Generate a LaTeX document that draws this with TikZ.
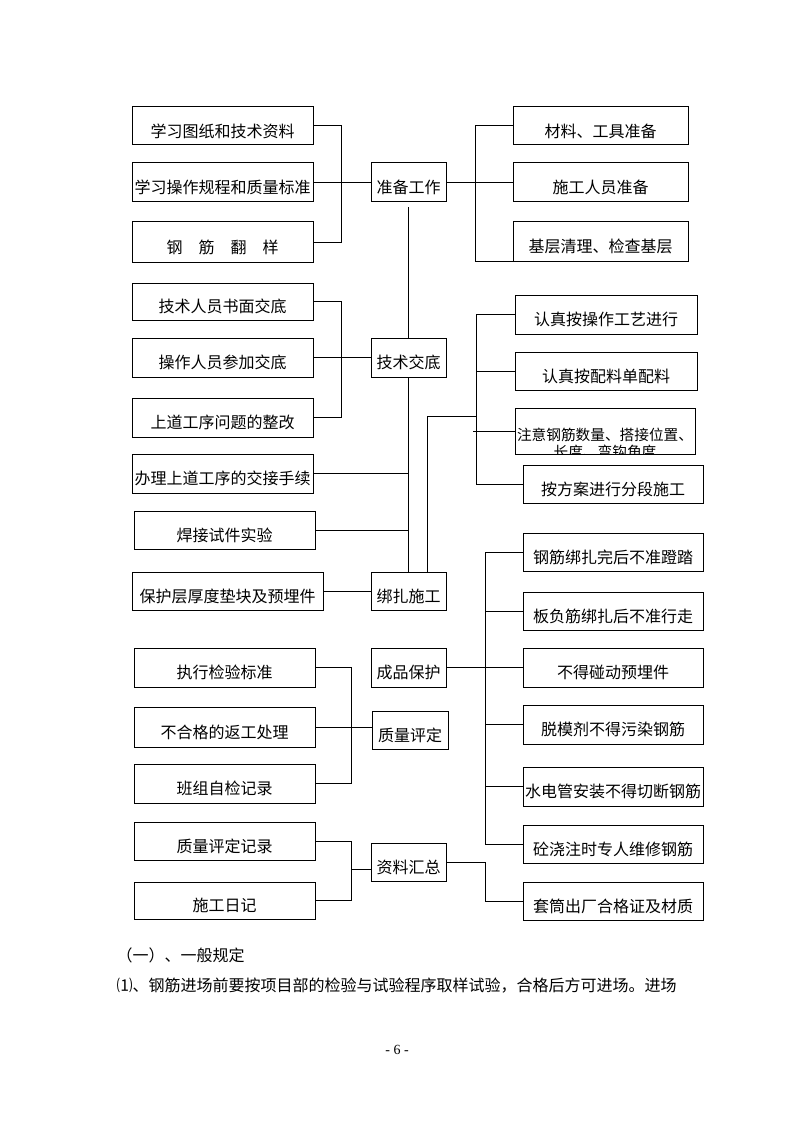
\documentclass[tikz,border=0pt]{standalone}
\usepackage{fontspec}
\setmainfont{Noto Sans CJK SC}
\newfontfamily\latinserif{Liberation Serif}
\newcommand\mybox[6]{\node[box, minimum width={(#4-#2)*0.75pt}, minimum height={(#5-#3)*0.75pt}] (#1) at ({(#2+#4)/2},{(#3+#5)/2}) {#6};}
\begin{document}
\begin{tikzpicture}[x=0.75pt,y=-0.75pt,line width=0.75pt,
  box/.style={draw, line width=0.75pt, inner sep=0pt, font=\fontsize{12pt}{14pt}\selectfont, text height=19pt, text depth=1.8pt},
  para/.style={anchor=west, inner sep=0pt, font=\fontsize{12pt}{14pt}\selectfont}]
\useasboundingbox (0,0) rectangle (794,1123);
% boxes
\mybox{L1}{132}{107}{313}{145}{学习图纸和技术资料}
\mybox{L2}{132}{163}{313}{202}{学习操作规程和质量标准}
\mybox{L3}{132}{222}{313}{262}{钢　筋　翻　样}
\mybox{P1}{371}{163}{446}{202}{准备工作}
\mybox{R1}{513}{107}{688}{145}{材料、工具准备}
\mybox{R2}{513}{163}{688}{202}{施工人员准备}
\mybox{R3}{513}{222}{688}{261}{基层清理、检查基层}
\mybox{M1}{132}{283}{313}{320}{技术人员书面交底}
\mybox{M2}{132}{338}{313}{377}{操作人员参加交底}
\mybox{M3}{132}{398}{313}{437}{上道工序问题的整改}
\mybox{T1}{371}{338}{446}{377}{技术交底}
\mybox{K1}{515}{295}{697}{334}{认真按操作工艺进行}
\mybox{K2}{515}{352}{697}{390}{认真按配料单配料}
\node[draw, inner sep=0pt, minimum width=180*0.75pt, minimum height=46*0.75pt,
  path picture={\node[font=\fontsize{11pt}{13pt}\selectfont, align=center, inner sep=0pt, anchor=north] at ([yshift=-9pt]path picture bounding box.north) {注意钢筋数量、搭接位置、\\长度、弯钩角度};}] (K3) at (605,431) {};
\mybox{K4}{523}{465}{703}{503}{按方案进行分段施工}
\mybox{N1}{132}{454}{313}{493}{办理上道工序的交接手续}
\mybox{N2}{134}{511}{315}{549}{焊接试件实验}
\mybox{N3}{132}{572}{323}{610}{保护层厚度垫块及预埋件}
\mybox{B1}{371}{572}{446}{610}{绑扎施工}
\mybox{C1}{523}{533}{703}{571}{钢筋绑扎完后不准蹬踏}
\mybox{C2}{523}{592}{703}{630}{板负筋绑扎后不准行走}
\mybox{C3}{523}{648}{703}{687}{不得碰动预埋件}
\mybox{C4}{523}{705}{703}{744}{脱模剂不得污染钢筋}
\mybox{C5}{523}{767}{703}{806}{水电管安装不得切断钢筋}
\mybox{C6}{523}{825}{703}{863}{砼浇注时专人维修钢筋}
\mybox{G1}{523}{882}{703}{920}{套筒出厂合格证及材质}
\mybox{Q1}{371}{648}{446}{687}{成品保护}
\mybox{Q2}{372}{711}{448}{749}{质量评定}
\mybox{E1}{134}{648}{315}{687}{执行检验标准}
\mybox{E2}{134}{707}{315}{747}{不合格的返工处理}
\mybox{E3}{134}{764}{315}{803}{班组自检记录}
\mybox{F1}{134}{822}{315}{860}{质量评定记录}
\mybox{F2}{134}{882}{315}{919}{施工日记}
\mybox{Q3}{371}{843}{446}{881}{资料汇总}
% reference coordinates for bracket columns
\coordinate (xa) at (341,0);
\coordinate (xb) at (475,0);
\coordinate (xc) at (427,0);
\coordinate (xd) at (476,0);
\coordinate (xe) at (485,0);
\coordinate (xf) at (351,0);
\coordinate (J) at (427,416);
\coordinate (H) at (351,869);
% connectors
\draw (L1.east) -- (L1.east -| xa) -- (L3.east -| xa) -- (L3.east);
\draw (L2.east) -- (P1.west);
\draw (R1.west) -- (R1.west -| xb) -- (R3.south west -| xb) -- (R3.south west);
\draw (P1.east) -- (R2.west);
\draw[shorten <=3.75pt] (P1.south) -- (T1.north);
\draw (T1.south) -- (B1.north);
\draw (M1.east) -- (M1.east -| xa) -- (M3.east -| xa) -- (M3.east);
\draw (M2.east) -- (T1.west);
\draw (N1.east) -- (N1.east -| T1.south);
\draw (N2.east) -- (N2.east -| T1.south);
\draw (N3.east) -- (B1.west);
\draw (B1.north -| xc) -- (J) -- (J -| xd);
\draw (K1.west) -- (K1.west -| xd) -- (K4.west -| xd) -- (K4.west);
\draw (K2.west -| xd) -- (K2.west);
\draw ([xshift=-2.25pt]K3.west -| xd) -- (K3.west);
\draw (C1.west) -- (C1.west -| xe) -- (C6.west -| xe) -- (C6.west);
\draw (C2.west -| xe) -- (C2.west);
\draw (C4.west -| xe) -- (C4.west);
\draw (C5.west -| xe) -- (C5.west);
\draw (Q1.east) -- (C3.west);
\draw (E1.east) -- (E1.east -| xf) -- (E3.east -| xf) -- (E3.east);
\draw (E2.east) -- (E2.east -| Q2.west);
\draw (F1.east) -- (F1.east -| xf) -- (F2.east -| xf) -- (F2.east);
\draw (H) -- (H -| Q3.west);
\draw (Q3.east) -- (Q3.east -| xe) -- (G1.west -| xe) -- (G1.west);
% text below
\node[para] (h1) at (116,955) {（一）、一般规定};
\node[para] (h2) at (116,986) {⑴、钢筋进场前要按项目部的检验与试验程序取样试验，合格后方可进场。进场};
\node[inner sep=0pt, font=\latinserif\fontsize{10.5pt}{12pt}\selectfont] (pg) at (397,1050) {- 6 -};
\end{tikzpicture}
\end{document}
